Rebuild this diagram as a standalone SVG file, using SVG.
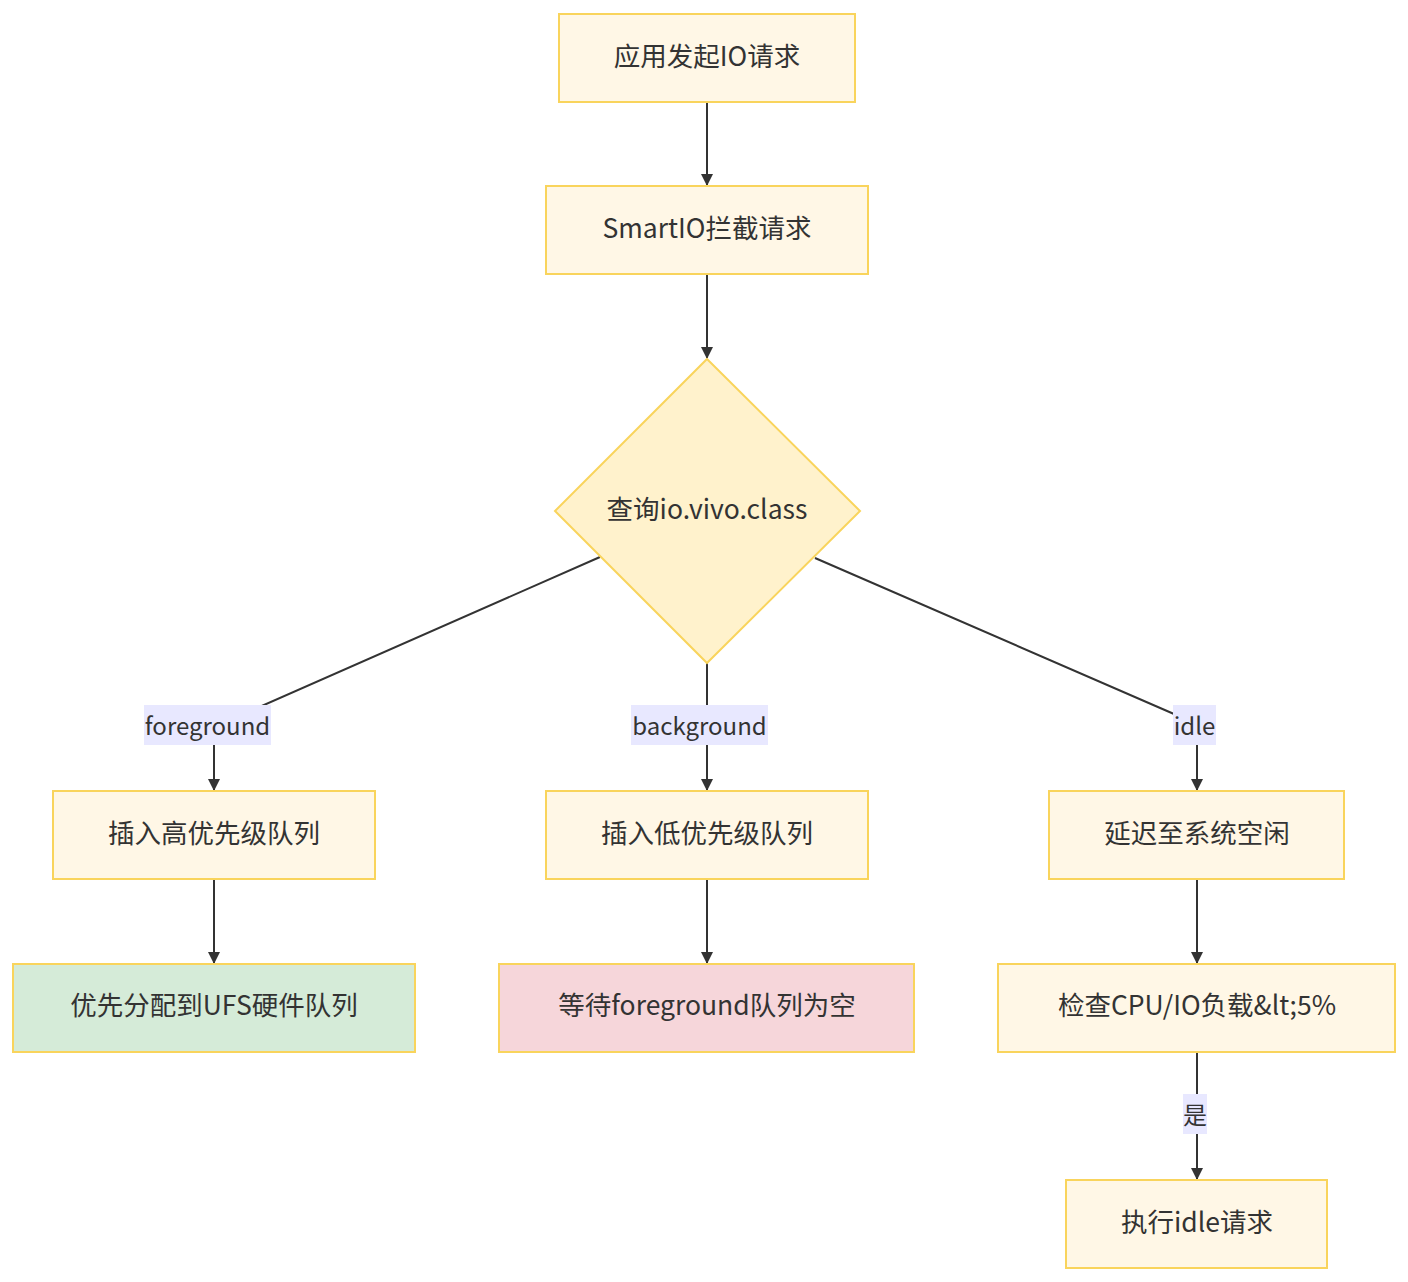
<svg xmlns="http://www.w3.org/2000/svg" width="1408" height="1282" viewBox="0 0 1408 1282">
<style>
.n{fill:#FFF7E6;stroke:#F9D45C;stroke-width:2}
.g{fill:#D5EBD8}
.p{fill:#F6D6DA}
.d{fill:#FFF2CC;stroke:#F9D45C;stroke-width:2}
.t{font-family:"Noto Sans CJK SC","Noto Sans",sans-serif;font-size:26.5px;fill:#333;text-anchor:middle;dominant-baseline:central}
.e{fill:none;stroke:#333;stroke-width:2}
.lb{fill:#E8E8FF}
.lt{font-family:"Noto Sans CJK SC","Noto Sans",sans-serif;font-size:24px;fill:#333;text-anchor:middle;dominant-baseline:central}
</style>
<defs>
<marker id="ah" viewBox="0 0 12 12" refX="11" refY="6" markerWidth="12" markerHeight="12" markerUnits="userSpaceOnUse" orient="auto">
<path d="M0,0 L12,6 L0,12 z" fill="#333"/>
</marker>
</defs>
<rect width="1408" height="1282" fill="#fff"/>
<g id="edges">
<path class="e" d="M707,102 L707,185" marker-end="url(#ah)"/>
<path class="e" d="M707,274 L707,358" marker-end="url(#ah)"/>
<path class="e" d="M600,557 L214,727 L214,790" marker-end="url(#ah)"/>
<path class="e" d="M707,663 L707,790" marker-end="url(#ah)"/>
<path class="e" d="M815,558 L1197,724 L1197,790" marker-end="url(#ah)"/>
<path class="e" d="M214,879 L214,963" marker-end="url(#ah)"/>
<path class="e" d="M707,879 L707,963" marker-end="url(#ah)"/>
<path class="e" d="M1197,879 L1197,963" marker-end="url(#ah)"/>
<path class="e" d="M1197,1052 L1197,1179" marker-end="url(#ah)"/>
</g>
<g id="edge-labels">
<g id="l-fg"><rect class="lb" x="144" y="705" width="127" height="40"/><text class="lt" x="207.5" y="724">foreground</text></g>
<g id="l-bg"><rect class="lb" x="631" y="705" width="137" height="40"/><text class="lt" x="699.5" y="724">background</text></g>
<g id="l-idle"><rect class="lb" x="1173" y="705" width="43" height="40"/><text class="lt" x="1194.5" y="724">idle</text></g>
<g id="l-yes"><rect class="lb" x="1183" y="1094" width="24" height="40"/><text class="lt" x="1195" y="1113">是</text></g>
</g>
<g id="n1"><rect class="n" x="559" y="14" width="296" height="88"/><text class="t" x="707" y="54">应用发起IO请求</text></g>
<g id="n2"><rect class="n" x="546" y="186" width="322" height="88"/><text class="t" x="707" y="226">SmartIO拦截请求</text></g>
<g id="n3"><polygon class="d" points="707,359 860,511 707,663 555,511"/><text class="t" x="707" y="507">查询io.vivo.class</text></g>
<g id="n4"><rect class="n" x="53" y="791" width="322" height="88"/><text class="t" x="214" y="831">插入高优先级队列</text></g>
<g id="n5"><rect class="n" x="546" y="791" width="322" height="88"/><text class="t" x="707" y="831">插入低优先级队列</text></g>
<g id="n6"><rect class="n" x="1049" y="791" width="295" height="88"/><text class="t" x="1197" y="831">延迟至系统空闲</text></g>
<g id="n7"><rect class="n g" x="13" y="964" width="402" height="88"/><text class="t" x="214" y="1003">优先分配到UFS硬件队列</text></g>
<g id="n8"><rect class="n p" x="499" y="964" width="415" height="88"/><text class="t" x="707" y="1003">等待foreground队列为空</text></g>
<g id="n9"><rect class="n" x="998" y="964" width="397" height="88"/><text class="t" x="1197" y="1003">检查CPU/IO负载&amp;lt;5%</text></g>
<g id="n10"><rect class="n" x="1066" y="1180" width="261" height="88"/><text class="t" x="1197" y="1220">执行idle请求</text></g>
</svg>
